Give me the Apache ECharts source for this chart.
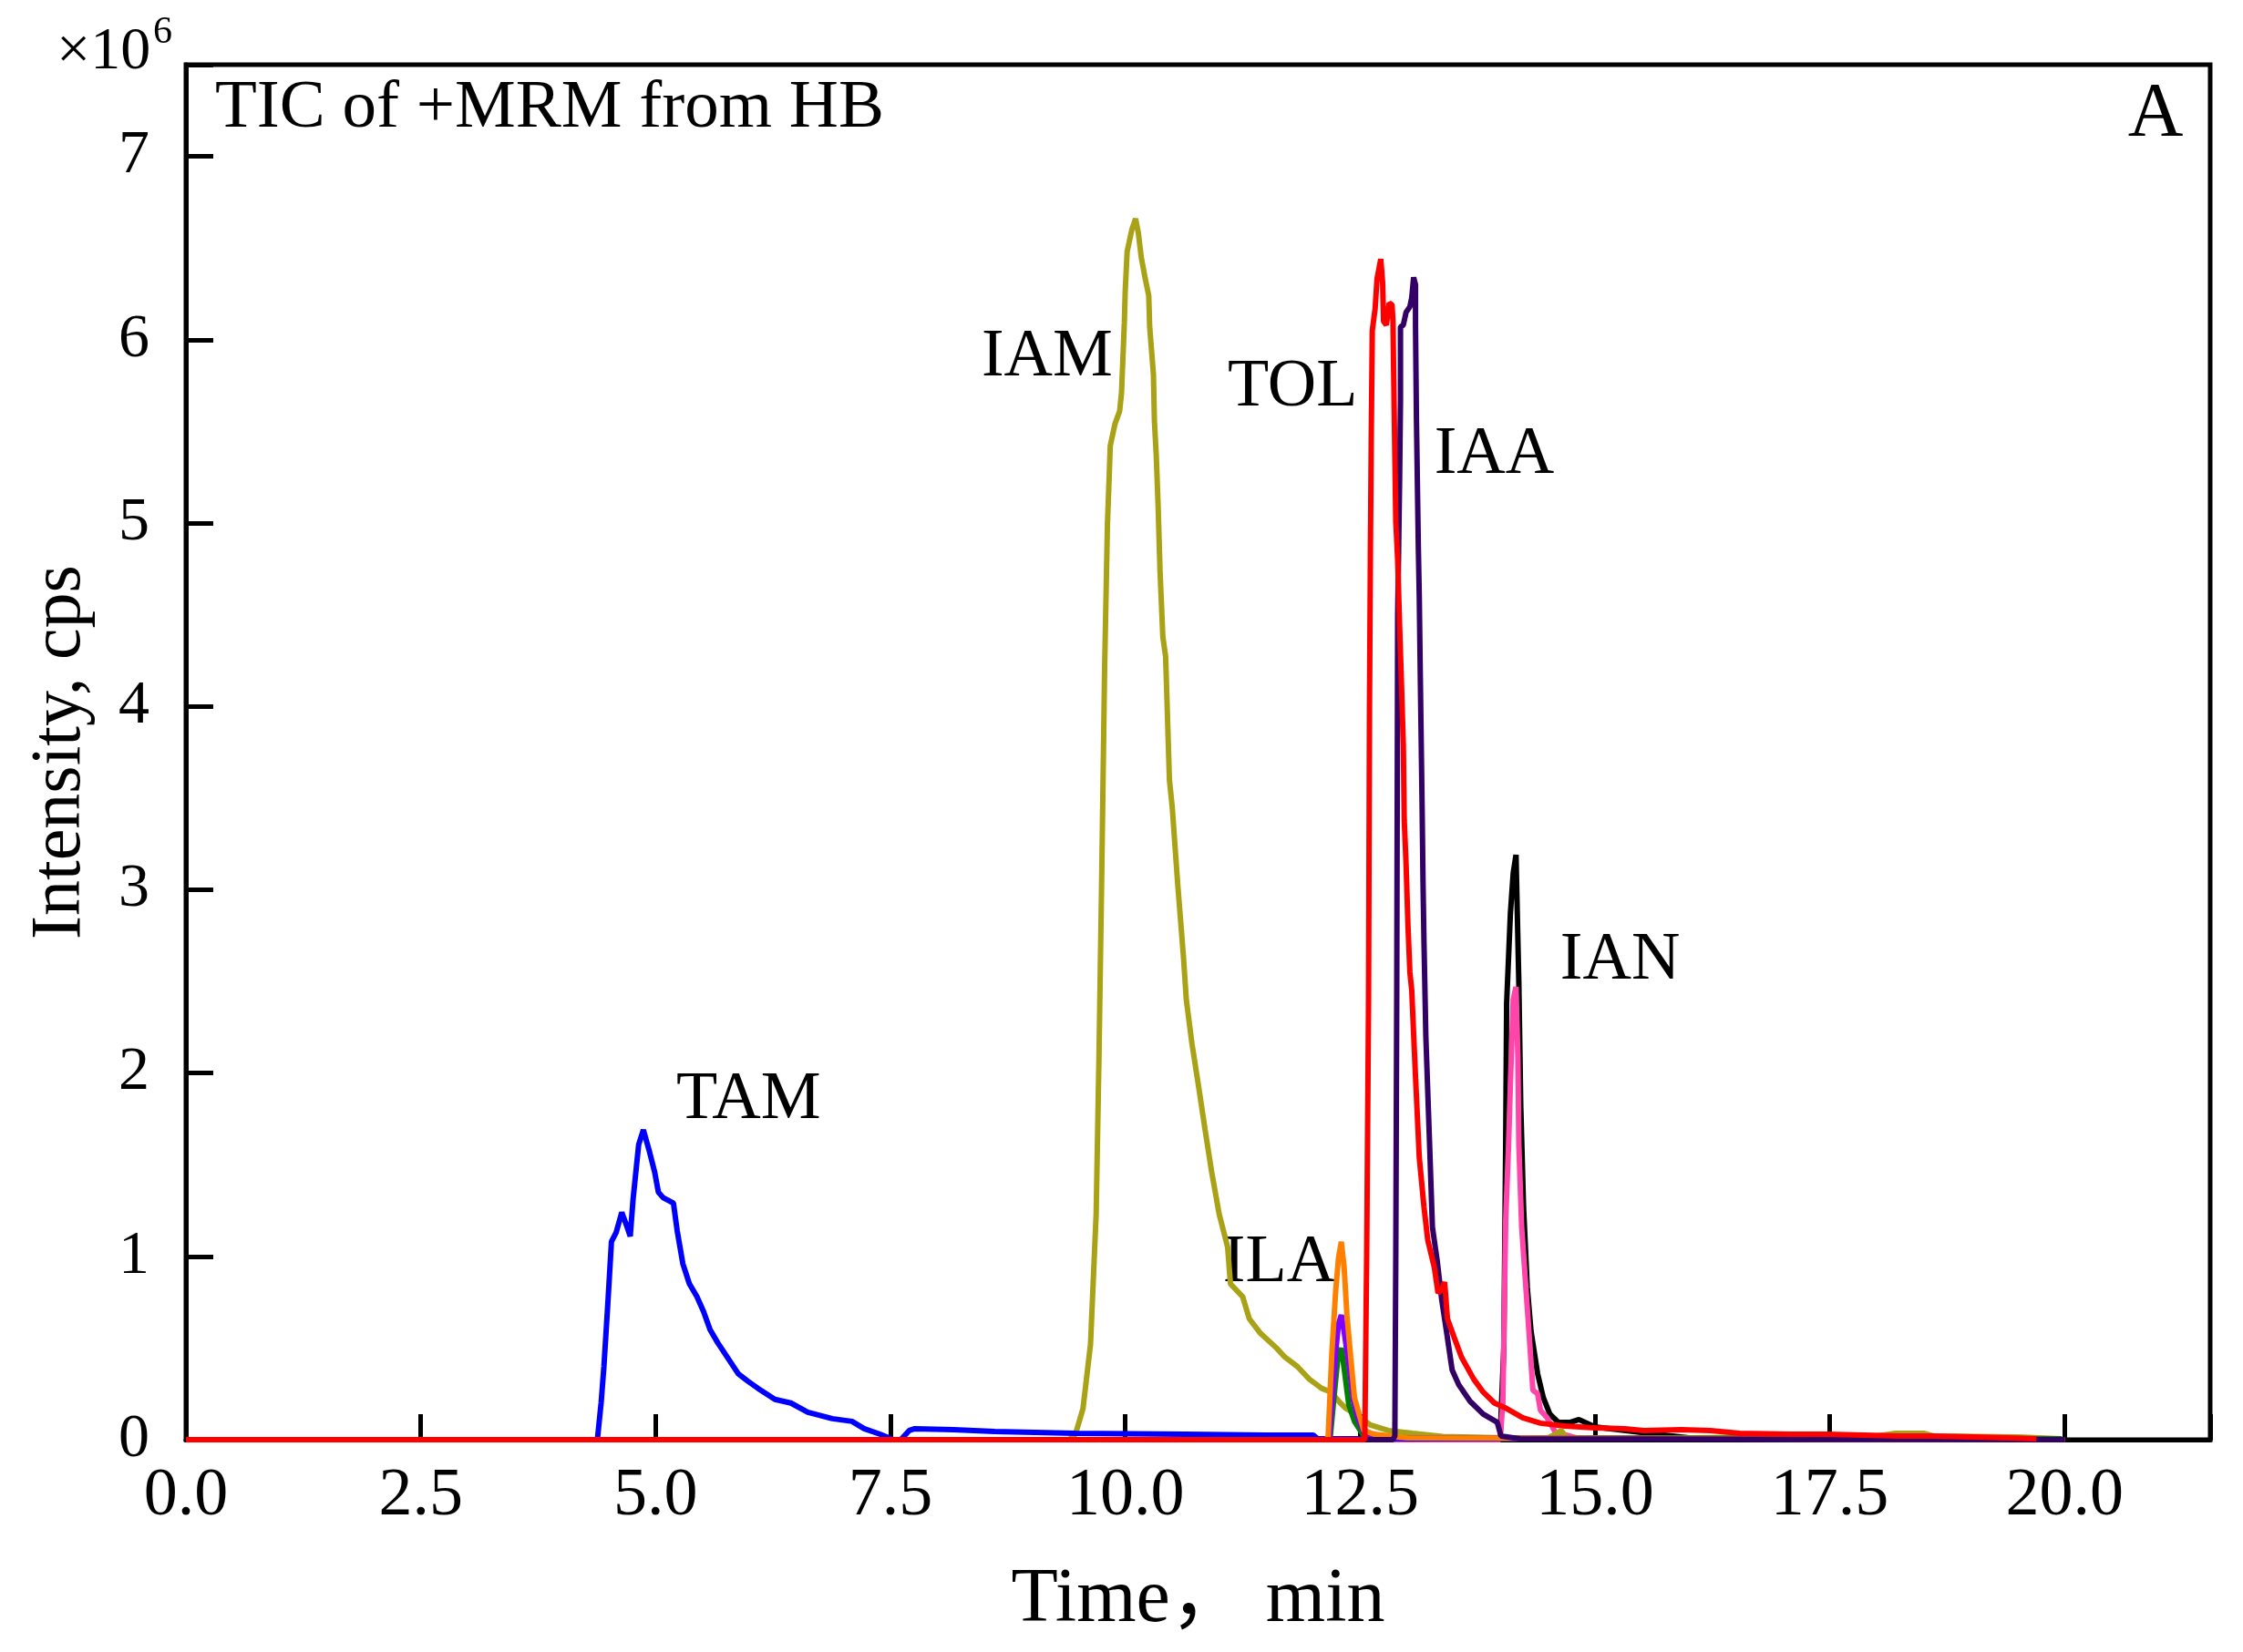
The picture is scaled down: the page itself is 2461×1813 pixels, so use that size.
<!DOCTYPE html>
<html>
<head>
<meta charset="utf-8">
<script src="https://cdn.jsdelivr.net/npm/echarts@6/dist/echarts.min.js"></script>
<style>
html, body { margin: 0; padding: 0; background: #fff; }
#main { width: 2461px; height: 1813px; }
</style>
</head>
<body>
<div id="main"></div>
<script>
// 各化合物的 TIC 曲线: [时间 min, 强度 ×10^6]
var TAM = [[0,0],[4.38,0],[4.42,0.2],[4.45,0.40],[4.49,0.73],[4.53,1.08],[4.58,1.13],[4.64,1.24],[4.69,1.17],[4.73,1.11],[4.76,1.31],[4.82,1.61],[4.87,1.69],[4.93,1.58],[4.99,1.46],[5.03,1.35],[5.08,1.32],[5.19,1.29],[5.23,1.14],[5.29,0.96],[5.36,0.85],[5.44,0.78],[5.51,0.70],[5.58,0.60],[5.66,0.53],[5.75,0.46],[5.88,0.36],[5.98,0.32],[6.09,0.28],[6.27,0.22],[6.44,0.20],[6.62,0.15],[6.88,0.115],[7.09,0.10],[7.22,0.06],[7.39,0.03],[7.53,0.0],[7.61,0.0],[7.70,0.05],[7.76,0.06],[8.17,0.055],[8.61,0.045],[9.04,0.04],[9.47,0.035],[10.64,0.03],[11.5,0.025],[12.0,0.025],[12.05,0.005],[13.0,0.005],[16.0,0.005],[20.0,0.0]];
var IAM = [[0,0],[9.40,0],[9.47,0.03],[9.55,0.17],[9.63,0.52],[9.69,1.23],[9.72,2.08],[9.75,3.1],[9.78,4.2],[9.81,4.99],[9.83,5.27],[9.84,5.42],[9.89,5.54],[9.94,5.61],[9.96,5.71],[9.99,6.09],[10.0,6.27],[10.02,6.48],[10.07,6.60],[10.11,6.66],[10.14,6.58],[10.17,6.45],[10.21,6.34],[10.25,6.24],[10.26,6.07],[10.30,5.81],[10.31,5.56],[10.33,5.37],[10.35,5.09],[10.37,4.74],[10.40,4.38],[10.43,4.27],[10.47,3.60],[10.50,3.45],[10.56,3.02],[10.62,2.63],[10.65,2.40],[10.71,2.16],[10.78,1.93],[10.85,1.69],[10.92,1.46],[11.0,1.23],[11.09,1.05],[11.12,0.85],[11.25,0.78],[11.32,0.66],[11.44,0.58],[11.61,0.50],[11.70,0.45],[11.83,0.40],[11.96,0.33],[12.09,0.28],[12.19,0.26],[12.29,0.20],[12.35,0.17],[12.48,0.13],[12.61,0.08],[12.80,0.05],[13.06,0.035],[13.38,0.017],[14.03,0.01],[14.50,0.01],[14.58,0.03],[14.64,0.05],[14.70,0.01],[16.0,0.01],[17.0,0.015],[18.0,0.02],[18.2,0.035],[18.5,0.035],[18.6,0.02],[19.5,0.015],[19.97,0.005]];
var ILA_orange = [[0,0],[12.14,0],[12.16,0.02],[12.20,0.48],[12.24,0.81],[12.27,0.99],[12.30,1.08],[12.33,0.94],[12.36,0.68],[12.40,0.45],[12.44,0.23],[12.50,0.12],[12.54,0.05],[12.65,0.03],[13.0,0.01],[20.0,0.0]];
var ILA_violet = [[0,0],[12.17,0],[12.24,0.48],[12.27,0.63],[12.30,0.68],[12.33,0.59],[12.38,0.41],[12.43,0.21],[12.48,0.11],[12.54,0.04],[12.7,0.01],[20.0,0]];
var ILA_green = [[0,0],[12.18,0],[12.22,0.22],[12.26,0.43],[12.30,0.50],[12.33,0.39],[12.38,0.19],[12.44,0.10],[12.54,0.02],[13.0,0.01],[19.97,0.005]];
var TOL = [[0,0],[12.55,0],[12.57,1.0],[12.59,2.4],[12.60,4.0],[12.61,4.87],[12.62,5.54],[12.63,6.05],[12.66,6.17],[12.68,6.33],[12.72,6.44],[12.74,6.31],[12.75,6.10],[12.78,6.08],[12.81,6.20],[12.84,6.19],[12.85,6.10],[12.86,5.73],[12.88,5.01],[12.90,4.80],[12.92,4.45],[12.94,4.13],[12.96,3.79],[12.97,3.38],[12.99,3.13],[13.01,2.80],[13.03,2.55],[13.05,2.45],[13.09,1.98],[13.13,1.54],[13.18,1.27],[13.22,1.09],[13.29,0.94],[13.33,0.80],[13.37,0.82],[13.40,0.86],[13.43,0.66],[13.50,0.56],[13.58,0.45],[13.71,0.33],[13.81,0.26],[13.93,0.20],[14.06,0.17],[14.23,0.12],[14.42,0.09],[14.68,0.075],[15.0,0.065],[15.32,0.06],[15.52,0.05],[15.92,0.055],[16.23,0.05],[16.54,0.035],[17.08,0.03],[17.47,0.03],[17.86,0.025],[18.25,0.02],[18.6,0.02],[19.03,0.015],[19.4,0.01],[19.7,0.005]];
var IAA = [[0,0],[12.85,0],[12.87,0.02],[12.88,1.0],[12.89,2.4],[12.90,4.49],[12.92,5.21],[12.93,5.67],[12.93,6.07],[12.96,6.08],[12.99,6.15],[13.03,6.18],[13.05,6.23],[13.07,6.34],[13.09,6.30],[13.09,6.07],[13.10,5.56],[13.12,4.87],[13.13,4.6],[13.14,4.2],[13.16,3.46],[13.17,3.04],[13.18,2.72],[13.20,2.2],[13.24,1.61],[13.27,1.16],[13.32,0.98],[13.37,0.76],[13.42,0.59],[13.48,0.38],[13.55,0.30],[13.67,0.21],[13.81,0.14],[13.96,0.095],[14.0,0.02],[14.2,0.005],[20.0,0]];
var IAN_black = [[0,0],[13.99,0],[14.03,0.50],[14.05,1.61],[14.06,2.38],[14.10,2.87],[14.13,3.09],[14.16,3.19],[14.19,2.49],[14.21,1.83],[14.24,1.27],[14.28,0.83],[14.32,0.59],[14.39,0.36],[14.45,0.23],[14.52,0.14],[14.61,0.095],[14.74,0.095],[14.83,0.11],[15.0,0.07],[15.33,0.05],[15.65,0.03],[16.0,0.01],[20.0,0]];
var IAN_pink = [[0,0],[13.99,0],[14.02,0.2],[14.05,1.2],[14.08,1.6],[14.10,1.94],[14.13,2.40],[14.16,2.47],[14.18,2.09],[14.19,1.61],[14.22,1.16],[14.28,0.72],[14.34,0.27],[14.39,0.25],[14.42,0.16],[14.49,0.12],[14.58,0.04],[14.8,0.01],[20.0,0]];

// 峰标注
var peakNames = ['TAM', 'IAM', 'TOL', 'IAA', 'IAN', 'ILA'];
var peakX = [5.22, 8.47, 11.09, 13.29, 14.63, 11.04];
var peakY = [1.85, 5.90, 5.74, 5.37, 2.61, 0.96];

var font = '"Liberation Serif", "Noto Sans CJK SC", serif';

function line(data, color) {
    return {
        type: 'line',
        data: data,
        showSymbol: false,
        symbol: 'none',
        lineStyle: { color: color, width: 6 },
        itemStyle: { color: color }
    };
}

var myChart = echarts.init(document.getElementById('main'));
myChart.setOption({
    animation: false,
    backgroundColor: '#fff',
    grid: {   //绘图区
        left: 204,
        right: 36,
        top: 71,
        bottom: 233,
        show: true,
        borderColor: '#000',
        borderWidth: 5
    },
    xAxis: {
        type: 'value',
        min: 0,
        max: 21.55,
        interval: 2.5,
        name: 'Time， min',
        nameLocation: 'middle',
        nameGap: 135,
        nameTextStyle: { color: '#000', fontFamily: font, fontSize: 84 },
        axisLine: { lineStyle: { color: '#000', width: 5 } },
        axisTick: { inside: true, length: 28, lineStyle: { color: '#000', width: 5 } },
        axisLabel: {
            color: '#000', fontFamily: font, fontSize: 74, margin: 26,
            formatter: function (v) { return v > 20.01 ? '' : v.toFixed(1); }
        },
        splitLine: { show: false }
    },
    yAxis: {
        type: 'value',
        min: 0,
        max: 7.5,
        interval: 1,
        name: 'Intensity, cps',
        nameLocation: 'middle',
        nameGap: 98,
        nameTextStyle: { color: '#000', fontFamily: font, fontSize: 78 },
        axisLine: { lineStyle: { color: '#000', width: 5 } },
        axisTick: { inside: true, length: 30, lineStyle: { color: '#000', width: 5 } },
        axisLabel: {
            color: '#000', fontFamily: font, fontSize: 68, margin: 40,
            formatter: function (v) { return v > 7.01 ? '' : String(v); }
        },
        splitLine: { show: false }
    },
    series: [
        line(IAN_black, '#000000'),
        line(IAN_pink, '#FF44AA'),
        line(IAM, '#A9A116'),
        line(TAM, '#0000FF'),
        line(ILA_green, '#008000'),
        line(ILA_violet, '#8000FF'),
        line(ILA_orange, '#FF8000'),
        line(IAA, '#330066'),
        line(TOL, '#FF0000')
    ]
});

// 文字标注
function txt(s, x, y, size, align) {
    return {
        type: 'text',
        style: { text: s, x: x, y: y, align: align || 'left', verticalAlign: 'middle', fill: '#000', font: size + 'px ' + font }
    };
}
var graphics = [
    txt('×10', 62, 58, 66),
    txt('6', 168, 36, 42),
    txt('TIC of +MRM from HB', 236, 119, 75),
    txt('A', 2365, 127, 84, 'center')
];
peakNames.forEach(function (name, i) {
    var p = myChart.convertToPixel({ gridIndex: 0 }, [peakX[i], peakY[i]]);
    graphics.push(txt(name, p[0], p[1], 74));
});
myChart.setOption({ graphic: graphics });
</script>
</body>
</html>
